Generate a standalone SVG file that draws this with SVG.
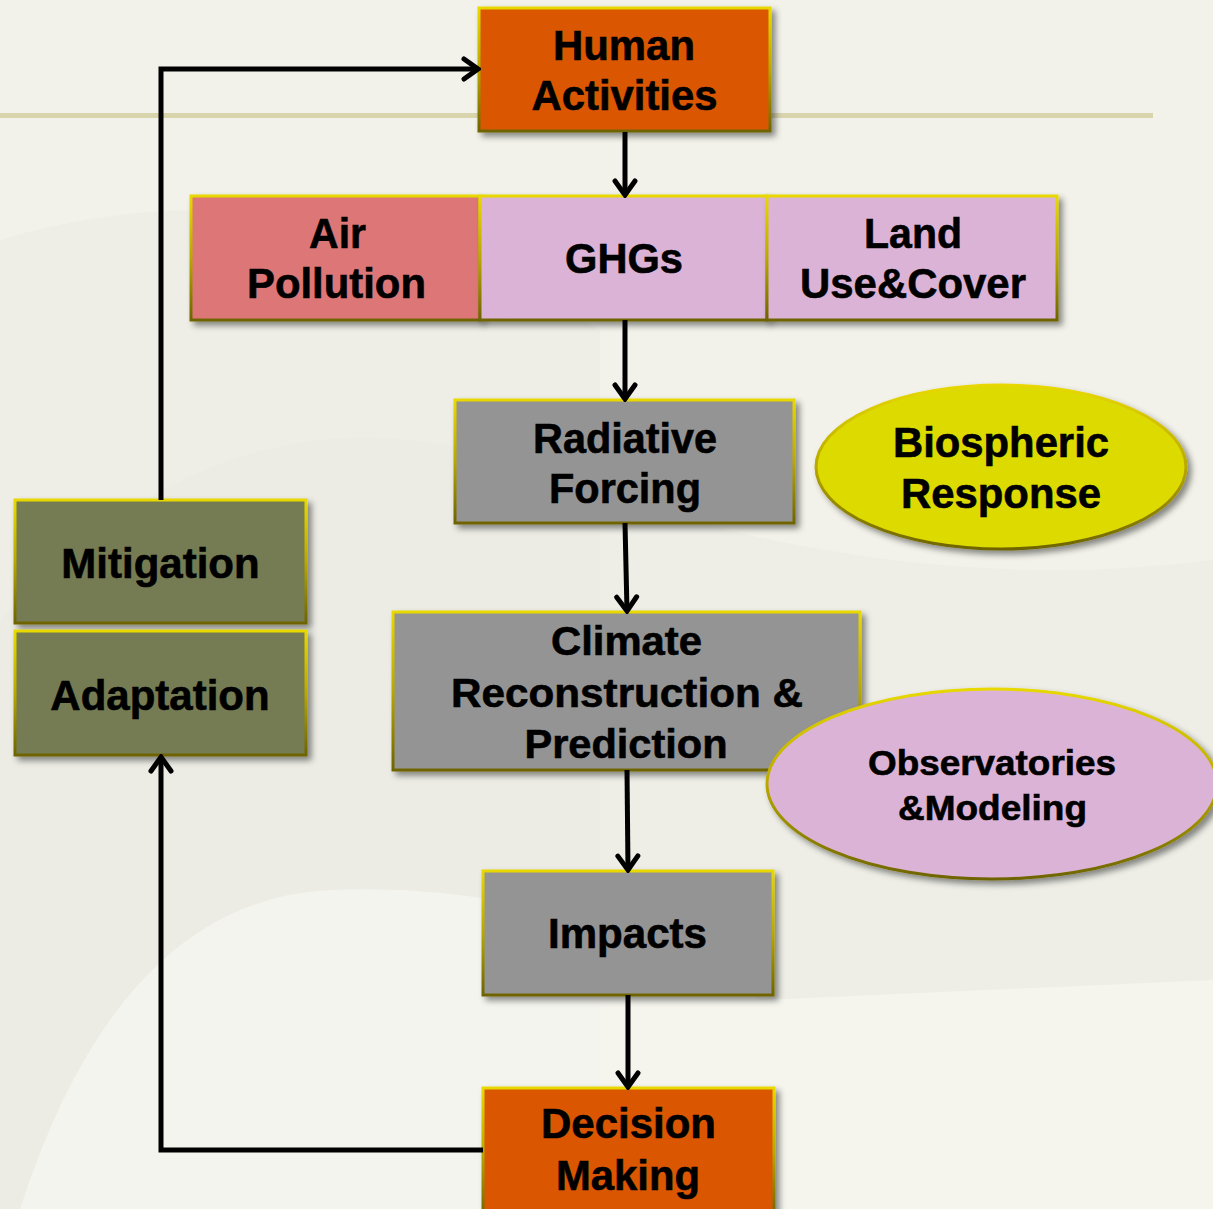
<svg xmlns="http://www.w3.org/2000/svg" width="1213" height="1209" viewBox="0 0 1213 1209">
<defs>
<linearGradient id="bord" x1="0" y1="0" x2="0" y2="1">
<stop offset="0" stop-color="#E8D800"/>
<stop offset="0.5" stop-color="#B8A800"/>
<stop offset="1" stop-color="#6E6400"/>
</linearGradient>
<filter id="sh" x="-10%" y="-10%" width="125%" height="125%">
<feDropShadow dx="4" dy="4" stdDeviation="3" flood-color="#000" flood-opacity="0.45"/>
</filter>
<marker id="arr" viewBox="0 0 20 26" refX="17" refY="13" markerWidth="20" markerHeight="26" markerUnits="userSpaceOnUse" orient="auto">
<path d="M3,3 L17,13 L3,23" fill="none" stroke="#000" stroke-width="5" stroke-linecap="round" stroke-linejoin="miter"/>
</marker>
</defs>
<style>
.box{stroke:url(#bord);stroke-width:3;filter:url(#sh)}
.t{font-family:"Liberation Sans",Arial,sans-serif;font-weight:bold;fill:#000;stroke:#000;stroke-width:0.6;text-anchor:middle}
.c{fill:none;stroke:#000;stroke-width:5;stroke-linejoin:miter}
</style>
<rect x="0" y="0" width="1213" height="1209" fill="#F2F2EA"/>
<path d="M0,240 Q300,150 600,330 L600,1209 L0,1209 Z" fill="#E8E8E0" opacity="0.35"/>
<path d="M0,620 Q250,350 560,480 Q900,600 1213,560 L1213,1209 L0,1209 Z" fill="#E9E9E1" opacity="0.35"/>
<path d="M20,1209 Q120,900 330,890 Q560,880 760,1000 L1213,980 L1213,1209 Z" fill="#F5F5EE" opacity="0.9"/>
<rect x="0" y="113" width="1153" height="5" fill="#D8D4AC"/>
<g id="human"><rect class="box" x="479" y="8" width="291" height="123" fill="#DB5700"/>
<text class="t" x="624" y="60" font-size="43" textLength="142" lengthAdjust="spacingAndGlyphs">Human</text>
<text class="t" x="624.5" y="110" font-size="43" textLength="186" lengthAdjust="spacingAndGlyphs">Activities</text></g>
<g id="air"><rect class="box" x="191" y="196" width="289" height="124" fill="#DD7777"/>
<text class="t" x="337.5" y="248" font-size="43" textLength="57" lengthAdjust="spacingAndGlyphs">Air</text>
<text class="t" x="336.5" y="298" font-size="43" textLength="179" lengthAdjust="spacingAndGlyphs">Pollution</text></g>
<g id="ghgs"><rect class="box" x="480" y="196" width="287" height="124" fill="#DBB3D6"/>
<text class="t" x="624" y="273" font-size="43" textLength="118" lengthAdjust="spacingAndGlyphs">GHGs</text></g>
<g id="land"><rect class="box" x="767" y="196" width="290" height="124" fill="#DBB3D6"/>
<text class="t" x="913" y="248" font-size="43" textLength="98" lengthAdjust="spacingAndGlyphs">Land</text>
<text class="t" x="913" y="298" font-size="43" textLength="226" lengthAdjust="spacingAndGlyphs">Use&amp;Cover</text></g>
<g id="radiative"><rect class="box" x="455" y="400" width="339" height="123" fill="#949494"/>
<text class="t" x="625" y="453" font-size="42" textLength="184" lengthAdjust="spacingAndGlyphs">Radiative</text>
<text class="t" x="625" y="503" font-size="42" textLength="152" lengthAdjust="spacingAndGlyphs">Forcing</text></g>
<g id="biospheric"><ellipse class="box" cx="1001" cy="467" rx="185" ry="82" fill="#DDDA00"/>
<text class="t" x="1001" y="457" font-size="42" textLength="216" lengthAdjust="spacingAndGlyphs">Biospheric</text>
<text class="t" x="1001" y="508" font-size="42" textLength="200" lengthAdjust="spacingAndGlyphs">Response</text></g>
<g id="climate"><rect class="box" x="393" y="612" width="467" height="158" fill="#949494"/>
<text class="t" x="626.5" y="655" font-size="40" textLength="151" lengthAdjust="spacingAndGlyphs">Climate</text>
<text class="t" x="627" y="707" font-size="40" textLength="352" lengthAdjust="spacingAndGlyphs">Reconstruction &amp;</text>
<text class="t" x="626" y="758" font-size="40" textLength="203" lengthAdjust="spacingAndGlyphs">Prediction</text></g>
<g id="observatories"><ellipse class="box" cx="992" cy="784" rx="225" ry="95" fill="#DBB3D6"/>
<text class="t" x="992" y="775" font-size="35" textLength="248" lengthAdjust="spacingAndGlyphs">Observatories</text>
<text class="t" x="992.5" y="820" font-size="35" textLength="189" lengthAdjust="spacingAndGlyphs">&amp;Modeling</text></g>
<g id="impacts"><rect class="box" x="483" y="871" width="290" height="124" fill="#949494"/>
<text class="t" x="627.5" y="948" font-size="42" textLength="159" lengthAdjust="spacingAndGlyphs">Impacts</text></g>
<g id="decision"><rect class="box" x="483" y="1088" width="291" height="130" fill="#DB5700"/>
<text class="t" x="628.5" y="1138" font-size="43" textLength="175" lengthAdjust="spacingAndGlyphs">Decision</text>
<text class="t" x="628" y="1190" font-size="43" textLength="144" lengthAdjust="spacingAndGlyphs">Making</text></g>
<g id="mitigation"><rect class="box" x="15" y="500" width="291" height="123" fill="#747C53"/>
<text class="t" x="160.5" y="578" font-size="42">Mitigation</text></g>
<g id="adaptation"><rect class="box" x="15" y="631" width="291" height="124" fill="#747C53"/>
<text class="t" x="160" y="710" font-size="42">Adaptation</text></g>
<g id="connectors">
<path class="c" d="M625,132 L625,195" marker-end="url(#arr)"/>
<path class="c" d="M625,320 L625,399" marker-end="url(#arr)"/>
<path class="c" d="M625,523 L627,611" marker-end="url(#arr)"/>
<path class="c" d="M627,770 L628,870" marker-end="url(#arr)"/>
<path class="c" d="M628,995 L628,1087" marker-end="url(#arr)"/>
<path class="c" d="M161,500 L161,69 L478,69" marker-end="url(#arr)"/>
<path class="c" d="M483,1150 L161,1150 L161,757" marker-end="url(#arr)"/>
</g>
</svg>
